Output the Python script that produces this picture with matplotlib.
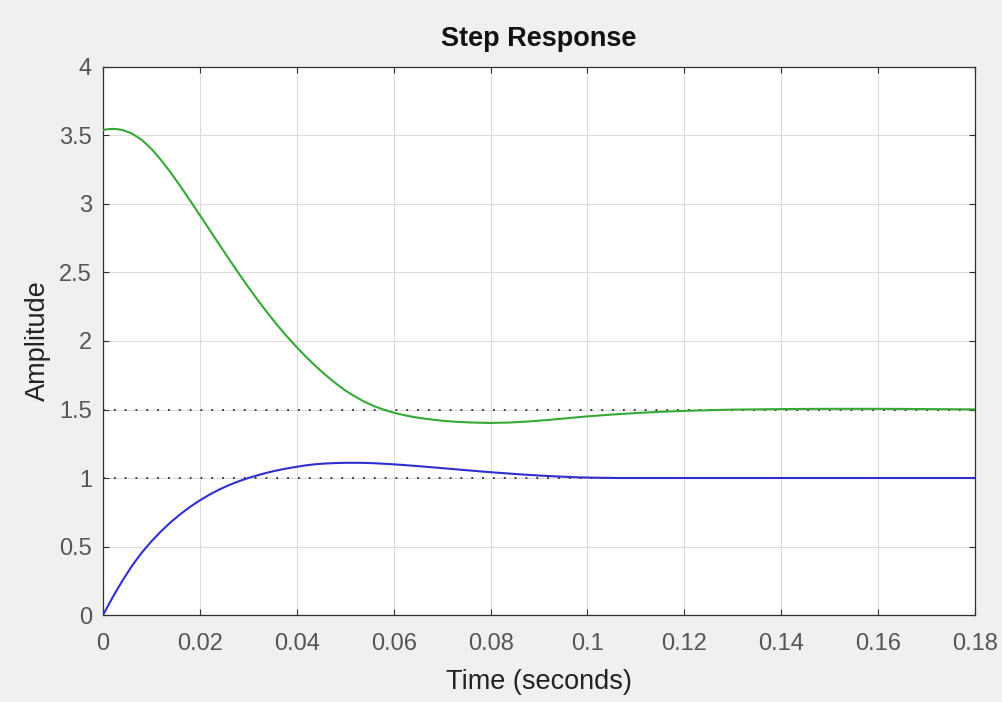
import matplotlib
matplotlib.use("Agg")
import matplotlib.pyplot as plt

# Step response of two systems (time in seconds, amplitude)
t_sys1 = [0.000, 0.002, 0.004, 0.006, 0.008, 0.010, 0.012, 0.014, 0.016, 0.018,
          0.020, 0.022, 0.024, 0.026, 0.028, 0.030, 0.032, 0.034, 0.036, 0.038,
          0.040, 0.042, 0.044, 0.046, 0.048, 0.050, 0.053, 0.056, 0.059, 0.062,
          0.066, 0.070, 0.074, 0.078, 0.082, 0.086, 0.090, 0.094, 0.098, 0.102,
          0.106, 0.120, 0.140, 0.160, 0.180]
y_sys1 = [0.000, 0.130, 0.250, 0.360, 0.455, 0.538, 0.612, 0.678, 0.737, 0.790,
          0.837, 0.879, 0.916, 0.948, 0.976, 1.000, 1.021, 1.040, 1.056, 1.070,
          1.082, 1.093, 1.101, 1.106, 1.109, 1.111, 1.111, 1.108, 1.102, 1.095,
          1.084, 1.072, 1.060, 1.048, 1.037, 1.027, 1.018, 1.011, 1.005, 1.002,
          1.000, 1.000, 1.000, 1.000, 1.000]

t_sys2 = [0.000, 0.001, 0.002, 0.003, 0.004, 0.006, 0.008, 0.010, 0.012, 0.014,
          0.016, 0.018, 0.020, 0.022, 0.024, 0.026, 0.028, 0.030, 0.032, 0.034,
          0.036, 0.038, 0.040, 0.042, 0.044, 0.046, 0.048, 0.050, 0.052, 0.054,
          0.056, 0.058, 0.060, 0.062, 0.064, 0.066, 0.068, 0.070, 0.073, 0.076,
          0.080, 0.084, 0.088, 0.092, 0.096, 0.100, 0.105, 0.110, 0.115, 0.120,
          0.125, 0.130, 0.140, 0.150, 0.160, 0.170, 0.180]
y_sys2 = [3.540, 3.546, 3.548, 3.546, 3.540, 3.514, 3.468, 3.402, 3.320, 3.228,
          3.128, 3.024, 2.918, 2.811, 2.704, 2.598, 2.494, 2.393, 2.296, 2.203,
          2.115, 2.032, 1.954, 1.881, 1.813, 1.750, 1.692, 1.639, 1.595, 1.556,
          1.524, 1.498, 1.477, 1.460, 1.446, 1.435, 1.426, 1.418, 1.410, 1.405,
          1.402, 1.405, 1.413, 1.424, 1.437, 1.450, 1.463, 1.474, 1.483, 1.490,
          1.495, 1.499, 1.503, 1.505, 1.505, 1.503, 1.501]

# Steady-state levels
final_values = [1.0, 1.5]

x_ticks = [0, 0.02, 0.04, 0.06, 0.08, 0.1, 0.12, 0.14, 0.16, 0.18]
x_tick_labels = ["0", "0.02", "0.04", "0.06", "0.08", "0.1", "0.12", "0.14", "0.16", "0.18"]
y_ticks = [0, 0.5, 1, 1.5, 2, 2.5, 3, 3.5, 4]
y_tick_labels = ["0", "0.5", "1", "1.5", "2", "2.5", "3", "3.5", "4"]

plt.rcParams["font.family"] = ["Liberation Sans", "DejaVu Sans"]

fig = plt.figure(figsize=(10.03, 7.02), dpi=100, facecolor="#f0f0f0")
ax = fig.add_axes([0.1027, 0.1239, 0.8694, 0.7807])
ax.set_facecolor("white")

for fv in final_values:
    ax.plot([x_ticks[0], x_ticks[-1]], [fv, fv], color="#2a2a2a",
            linestyle=(0, (1, 5)), linewidth=1.3, zorder=2)

ax.plot(t_sys1, y_sys1, color="#2f2fcf", linewidth=1.5, zorder=3)
ax.plot(t_sys2, y_sys2, color="#36a836", linewidth=1.5, zorder=3)

ax.set_xlim(0, 0.18)
ax.set_ylim(0, 4)
ax.set_xticks(x_ticks)
ax.set_xticklabels(x_tick_labels)
ax.set_yticks(y_ticks)
ax.set_yticklabels(y_tick_labels)

ax.grid(True, color="#dcdcdc", linewidth=0.8)
ax.set_axisbelow(True)

for sp in ax.spines.values():
    sp.set_color("#303030")
    sp.set_linewidth(0.9)

ax.tick_params(axis="both", which="both", direction="in", length=4,
               width=0.8, color="#303030", top=True, right=True,
               labelsize=17, labelcolor="#555555")
ax.tick_params(axis="x", pad=13)
ax.tick_params(axis="y", pad=8)

ax.set_title("Step Response", fontsize=19.5, fontweight="bold", color="#111111", pad=15)
ax.set_xlabel("Time (seconds)", fontsize=19.5, color="#222222", labelpad=10)
ax.set_ylabel("Amplitude", fontsize=19.5, color="#222222", labelpad=6)

fig.savefig("out.png", dpi=100, facecolor=fig.get_facecolor())
